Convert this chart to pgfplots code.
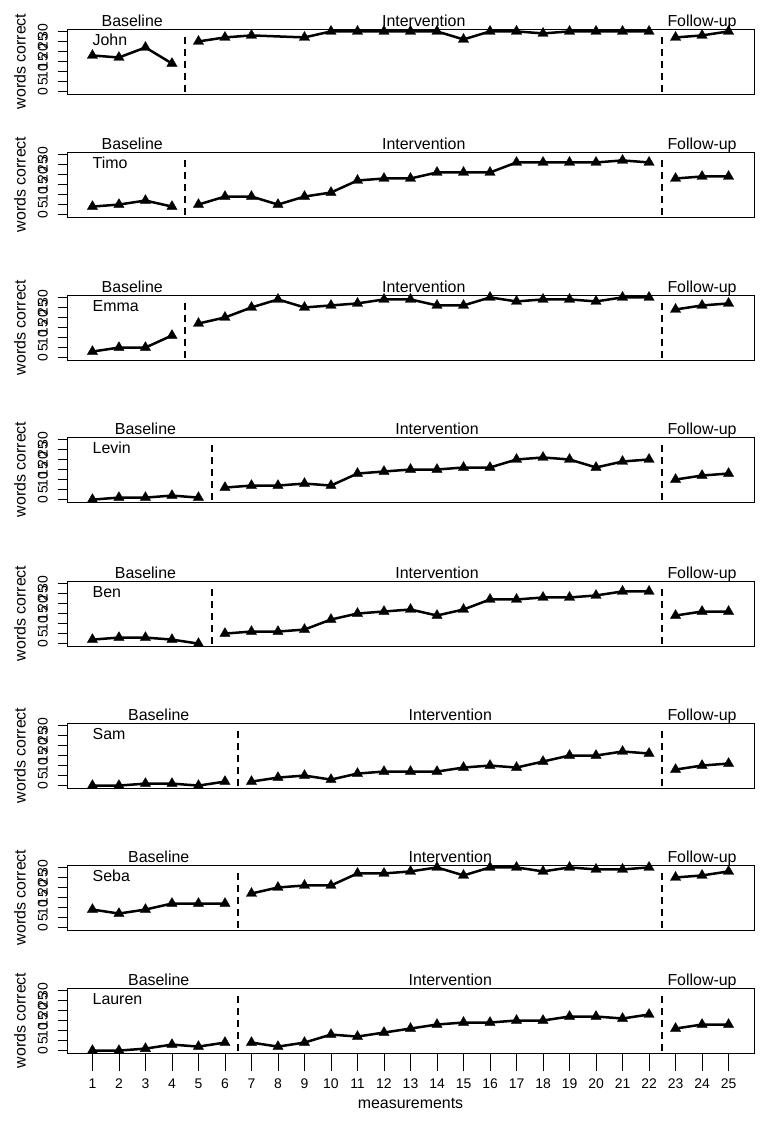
\documentclass[border=0pt]{standalone}
\usepackage{pgfplots}
\pgfplotsset{compat=1.18}
\usepackage{fontspec}
\setmainfont{Liberation Sans}
\newcommand{\fs}{\fontsize{16}{19}\selectfont}
\newcommand{\ft}{\fontsize{14}{16}\selectfont}
\pgfplotsset{
  geom/.style={
    scale only axis, width=687bp, height=65bp, anchor=north west,
    xmin=0.04, xmax=25.96, ymin=-1.2, ymax=31.2,
    /pgf/number format/assume math mode=true,
    tick label style={font=\ft},
    label style={font=\fs},
    every tick/.style={line width=0.9bp, black},
    tick align=outside,
    clip=false,
  },
  panel/.style={
    geom,
    ytick={0,5,...,30}, xtick=\empty,
    axis line style={line width=0.9bp},
    major tick length=9bp,
    ytick pos=left,
    yticklabel style={rotate=90, anchor=south, inner sep=0bp, yshift=10bp},
    ylabel={words correct},
    ylabel style={at={(axis description cs:-0.0684,0.5)}, anchor=center},
  },
  dat/.style={black, line width=2.5bp, mark=triangle*, mark size=6bp, mark options={solid, line width=0.3bp}},
  dsh/.style={black, line width=2bp, no marks, dash pattern=on 7bp off 5bp},
}
\tikzset{
  phase/.style={anchor=base, font=\fs, yshift=2.5bp},
  who/.style={anchor=base west, font=\fs, inner sep=0pt},
}
\begin{document}
\begin{tikzpicture}[font=\fs]
\useasboundingbox (0,0) rectangle (767bp,-1121bp);

% John
\begin{axis}[panel, at={(67bp,-29bp)}]
\addplot[dat] coordinates {(1,18)(2,17)(3,22)(4,14)};
\addplot[dat] coordinates {(5,25)(6,27)(7,28)(9,27)(10,30)(11,30)(12,30)(13,30)(14,30)(15,26)(16,30)(17,30)(18,29)(19,30)(20,30)(21,30)(22,30)};
\addplot[dat] coordinates {(23,27)(24,28)(25,30)};
\addplot[dsh] coordinates {(4.5,27)(4.5,-1.2)};
\addplot[dsh] coordinates {(22.5,27)(22.5,-1.2)};
\node[phase] at (axis cs:2.5,31.2) {Baseline};
\node[phase] at (axis cs:13.5,31.2) {Intervention};
\node[phase] at (axis cs:24,31.2) {Follow-up};
\node[who] at (axis cs:1,23.2) {John};
\end{axis}

% Timo
\begin{axis}[panel, at={(67bp,-152bp)}]
\addplot[dat] coordinates {(1,4)(2,5)(3,7)(4,4)};
\addplot[dat] coordinates {(5,5)(6,9)(7,9)(8,5)(9,9)(10,11)(11,17)(12,18)(13,18)(14,21)(15,21)(16,21)(17,26)(18,26)(19,26)(20,26)(21,27)(22,26)};
\addplot[dat] coordinates {(23,18)(24,19)(25,19)};
\addplot[dsh] coordinates {(4.5,27)(4.5,-1.2)};
\addplot[dsh] coordinates {(22.5,27)(22.5,-1.2)};
\node[phase] at (axis cs:2.5,31.2) {Baseline};
\node[phase] at (axis cs:13.5,31.2) {Intervention};
\node[phase] at (axis cs:24,31.2) {Follow-up};
\node[who] at (axis cs:1,23.2) {Timo};
\end{axis}

% Emma
\begin{axis}[panel, at={(67bp,-295bp)}]
\addplot[dat] coordinates {(1,3)(2,5)(3,5)(4,11)};
\addplot[dat] coordinates {(5,17)(6,20)(7,25)(8,29)(9,25)(10,26)(11,27)(12,29)(13,29)(14,26)(15,26)(16,30)(17,28)(18,29)(19,29)(20,28)(21,30)(22,30)};
\addplot[dat] coordinates {(23,24)(24,26)(25,27)};
\addplot[dsh] coordinates {(4.5,27)(4.5,-1.2)};
\addplot[dsh] coordinates {(22.5,27)(22.5,-1.2)};
\node[phase] at (axis cs:2.5,31.2) {Baseline};
\node[phase] at (axis cs:13.5,31.2) {Intervention};
\node[phase] at (axis cs:24,31.2) {Follow-up};
\node[who] at (axis cs:1,23.2) {Emma};
\end{axis}

% Levin
\begin{axis}[panel, at={(67bp,-437bp)}]
\addplot[dat] coordinates {(1,0)(2,1)(3,1)(4,2)(5,1)};
\addplot[dat] coordinates {(6,6)(7,7)(8,7)(9,8)(10,7)(11,13)(12,14)(13,15)(14,15)(15,16)(16,16)(17,20)(18,21)(19,20)(20,16)(21,19)(22,20)};
\addplot[dat] coordinates {(23,10)(24,12)(25,13)};
\addplot[dsh] coordinates {(5.5,27)(5.5,-1.2)};
\addplot[dsh] coordinates {(22.5,27)(22.5,-1.2)};
\node[phase] at (axis cs:3,31.2) {Baseline};
\node[phase] at (axis cs:14,31.2) {Intervention};
\node[phase] at (axis cs:24,31.2) {Follow-up};
\node[who] at (axis cs:1,23.2) {Levin};
\end{axis}

% Ben
\begin{axis}[panel, at={(67bp,-581bp)}]
\addplot[dat] coordinates {(1,2)(2,3)(3,3)(4,2)(5,0)};
\addplot[dat] coordinates {(6,5)(7,6)(8,6)(9,7)(10,12)(11,15)(12,16)(13,17)(14,14)(15,17)(16,22)(17,22)(18,23)(19,23)(20,24)(21,26)(22,26)};
\addplot[dat] coordinates {(23,14)(24,16)(25,16)};
\addplot[dsh] coordinates {(5.5,27)(5.5,-1.2)};
\addplot[dsh] coordinates {(22.5,27)(22.5,-1.2)};
\node[phase] at (axis cs:3,31.2) {Baseline};
\node[phase] at (axis cs:14,31.2) {Intervention};
\node[phase] at (axis cs:24,31.2) {Follow-up};
\node[who] at (axis cs:1,23.2) {Ben};
\end{axis}

% Sam
\begin{axis}[panel, at={(67bp,-723bp)}]
\addplot[dat] coordinates {(1,0)(2,0)(3,1)(4,1)(5,0)(6,2)};
\addplot[dat] coordinates {(7,2)(8,4)(9,5)(10,3)(11,6)(12,7)(13,7)(14,7)(15,9)(16,10)(17,9)(18,12)(19,15)(20,15)(21,17)(22,16)};
\addplot[dat] coordinates {(23,8)(24,10)(25,11)};
\addplot[dsh] coordinates {(6.5,27)(6.5,-1.2)};
\addplot[dsh] coordinates {(22.5,27)(22.5,-1.2)};
\node[phase] at (axis cs:3.5,31.2) {Baseline};
\node[phase] at (axis cs:14.5,31.2) {Intervention};
\node[phase] at (axis cs:24,31.2) {Follow-up};
\node[who] at (axis cs:1,23.2) {Sam};
\end{axis}

% Seba
\begin{axis}[panel, at={(67bp,-865bp)}]
\addplot[dat] coordinates {(1,9)(2,7)(3,9)(4,12)(5,12)(6,12)};
\addplot[dat] coordinates {(7,17)(8,20)(9,21)(10,21)(11,27)(12,27)(13,28)(14,30)(15,26)(16,30)(17,30)(18,28)(19,30)(20,29)(21,29)(22,30)};
\addplot[dat] coordinates {(23,25)(24,26)(25,28)};
\addplot[dsh] coordinates {(6.5,27)(6.5,-1.2)};
\addplot[dsh] coordinates {(22.5,27)(22.5,-1.2)};
\node[phase] at (axis cs:3.5,31.2) {Baseline};
\node[phase] at (axis cs:14.5,31.2) {Intervention};
\node[phase] at (axis cs:24,31.2) {Follow-up};
\node[who] at (axis cs:1,23.2) {Seba};
\end{axis}

% Lauren
\begin{axis}[panel, at={(67bp,-988bp)}]
\addplot[dat] coordinates {(1,0)(2,0)(3,1)(4,3)(5,2)(6,4)};
\addplot[dat] coordinates {(7,4)(8,2)(9,4)(10,8)(11,7)(12,9)(13,11)(14,13)(15,14)(16,14)(17,15)(18,15)(19,17)(20,17)(21,16)(22,18)};
\addplot[dat] coordinates {(23,11)(24,13)(25,13)};
\addplot[dsh] coordinates {(6.5,27)(6.5,-1.2)};
\addplot[dsh] coordinates {(22.5,27)(22.5,-1.2)};
\node[phase] at (axis cs:3.5,31.2) {Baseline};
\node[phase] at (axis cs:14.5,31.2) {Intervention};
\node[phase] at (axis cs:24,31.2) {Follow-up};
\node[who] at (axis cs:1,23.2) {Lauren};
\end{axis}

% x axis of the bottom panel
\begin{axis}[geom, at={(67bp,-988bp)},
  axis y line=none, axis x line*=bottom,
  x axis line style={-, line width=0.9bp},
  xtick={1,...,25}, ytick=\empty,
  major tick length=18bp,
  xticklabel style={inner sep=0pt, yshift=-8bp},
  xlabel={measurements},
  xlabel style={at={(axis description cs:0.5,0)}, anchor=base, yshift=-55bp}]
\end{axis}
\end{tikzpicture}
\end{document}
